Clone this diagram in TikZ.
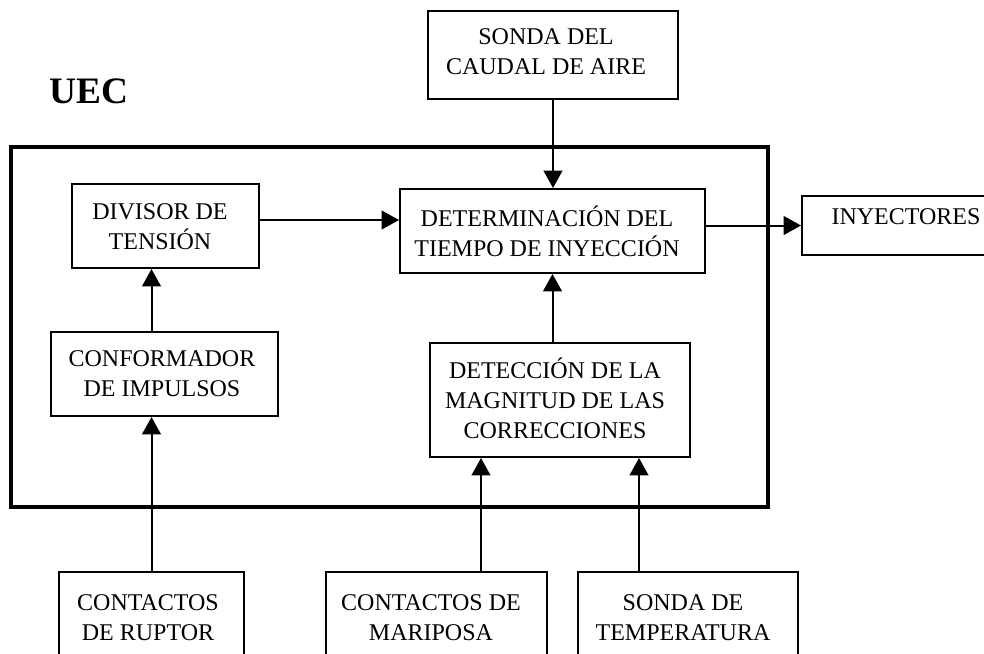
\documentclass[tikz,border=0pt]{standalone}
\usepackage{fontspec}
\setmainfont{Liberation Serif}
\usetikzlibrary{arrows.meta}

\begin{document}
\begin{tikzpicture}[x=0.75pt,y=0.75pt,yscale=-1,xscale=1,
	box/.style={draw, line width=1.5pt, inner sep=0pt},
	txt/.style={inner sep=0pt, align=center, font=\fontsize{18}{22.5}\selectfont},
	arr/.style={line width=1.5pt, -{Triangle[length=13pt,width=14pt]}}]
	\useasboundingbox (0,0) rectangle (984,653);
	\clip (0,0) rectangle (984,653);
	
	%Shape: Rectangle UEC
	\draw [line width=2.6pt] (11,147) -- (768,147) -- (768,507) -- (11,507) -- cycle ;
	\node (uec) at (89,91.5) [inner sep=0pt, font=\fontsize{28}{34}\selectfont\bfseries] {UEC};
	
	% Boxes
	\node [box, minimum width=187.5pt, minimum height=66pt] (caudal) at (553,55) {};
	\node [box, minimum width=140.25pt, minimum height=63pt] (divisor) at (165.5,226) {};
	\node [box, minimum width=228.75pt, minimum height=63pt] (determ) at (552.5,231) {};
	\node [box, minimum width=141pt, minimum height=44.25pt] (inyect) at (896,225.5) {};
	\node [box, minimum width=170.25pt, minimum height=63pt] (conform) at (164.5,374) {};
	\node [box, minimum width=195pt, minimum height=85.5pt] (correc) at (560,400) {};
	\node [box, minimum width=138.75pt, minimum height=73.5pt] (ruptor) at (151.5,621) {};
	\node [box, minimum width=165.75pt, minimum height=73.5pt] (maripos) at (436.5,621) {};
	\node [box, minimum width=165pt, minimum height=73.5pt] (tempera) at (688,621) {};
	
	% Text Node
	\node [txt] (caudal-t) at (546,52) {SONDA DEL\\CAUDAL DE AIRE};
	\node [txt] (divisor-t) at (160,226.5) {DIVISOR DE\\TENSIÓN};
	\node [txt] (determ-t) at (547,231) {DETERMINACIÓN DEL\\TIEMPO DE INYECCIÓN};
	\node [txt] (inyect-t) at (906,216.5) {INYECTORES};
	\node [txt] (conform-t) at (162,373.5) {CONFORMADOR\\DE IMPULSOS};
	\node [txt] (correc-t) at (555,398) {DETECCIÓN DE LA\\MAGNITUD DE LAS\\CORRECCIONES};
	\node [txt] (ruptor-t) at (148,617.5) {CONTACTOS\\DE RUPTOR};
	\node [txt] (maripos-t) at (431,617.5) {CONTACTOS DE\\MARIPOSA};
	\node [txt] (tempera-t) at (683,617.5) {SONDA DE\\TEMPERATURA};
	
	% Arrows
	\coordinate (cin1) at ([xshift=-59.25pt]correc.south);
	\coordinate (cin2) at ([xshift=59.25pt]correc.south);
	\draw [arr] (caudal.south) -- (caudal.south |- determ.north);
	\draw [arr] ([yshift=-4.5pt]divisor.east) -- ([yshift=-4.5pt]divisor.east -| determ.west);
	\draw [arr] (determ.east |- inyect.west) -- (inyect.west);
	\draw [arr] (ruptor.north |- conform.north) -- (ruptor.north |- divisor.south);
	\draw [arr] (ruptor.north) -- (ruptor.north |- conform.south);
	\draw [arr] (determ.south |- correc.north) -- (determ.south);
	\draw [arr] (cin1 |- maripos.north) -- (cin1);
	\draw [arr] (cin2 |- tempera.north) -- (cin2);
\end{tikzpicture}
\end{document}
